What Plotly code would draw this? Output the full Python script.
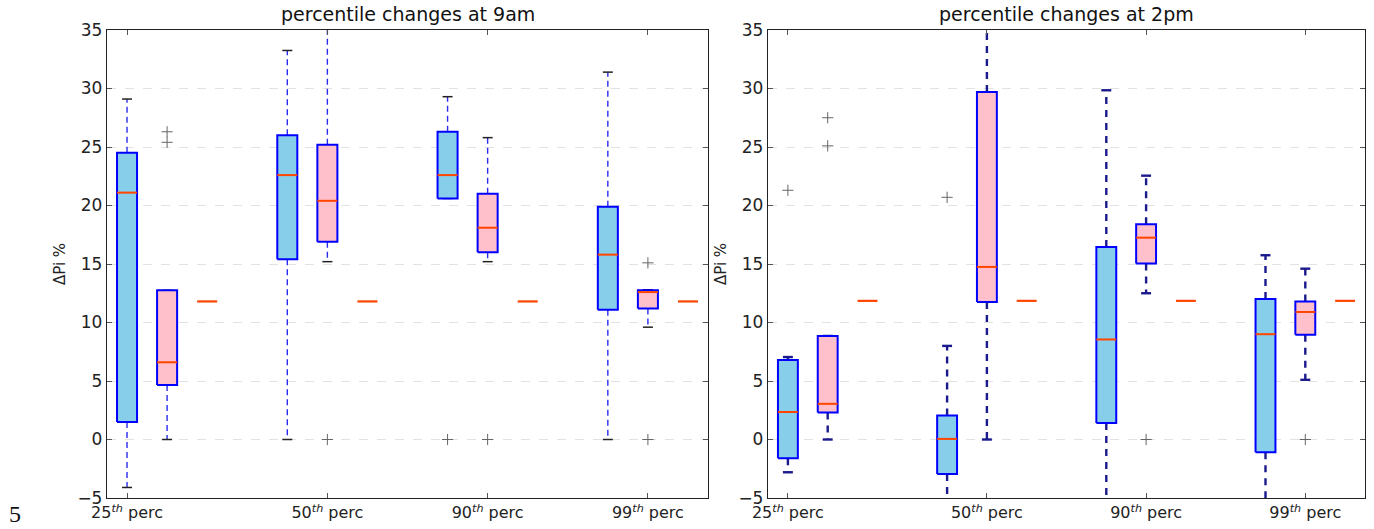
import plotly.graph_objects as go

# ---------------- data ----------------
groups = ["25<sup><i>th</i></sup> perc", "50<sup><i>th</i></sup> perc",
          "90<sup><i>th</i></sup> perc", "99<sup><i>th</i></sup> perc"]
titles = ["percentile changes at 9am", "percentile changes at 2pm"]

# 9am - blue series (whisker low, q1, median, q3, whisker high)
am_blue_lo = [-4.1, 0.0, 20.6, 0.0]
am_blue_q1 = [1.5, 15.4, 20.6, 11.1]
am_blue_med = [21.1, 22.6, 22.6, 15.8]
am_blue_q3 = [24.5, 26.0, 26.3, 19.9]
am_blue_hi = [29.1, 33.25, 29.3, 31.4]
am_blue_out = [[], [], [0.0], []]

# 9am - pink series
am_pink_lo = [0.0, 15.2, 15.2, 9.6]
am_pink_q1 = [4.65, 16.9, 16.0, 11.2]
am_pink_med = [6.6, 20.4, 18.1, 12.6]
am_pink_q3 = [12.75, 25.2, 21.0, 12.75]
am_pink_hi = [12.75, 38.0, 25.8, 12.8]
am_pink_out = [[26.3, 25.4], [0.0], [0.0], [15.1, 0.0]]

am_ref = [11.8, 11.8, 11.8, 11.8]

# 2pm - blue series
pm_blue_lo = [-2.8, -7.0, -7.0, -7.0]
pm_blue_q1 = [-1.6, -2.95, 1.4, -1.1]
pm_blue_med = [2.35, 0.05, 8.55, 9.0]
pm_blue_q3 = [6.8, 2.05, 16.45, 12.0]
pm_blue_hi = [7.05, 8.0, 29.85, 15.75]
pm_blue_out = [[21.3], [20.7], [], []]

# 2pm - pink series
pm_pink_lo = [0.0, 0.0, 12.5, 5.1]
pm_pink_q1 = [2.3, 11.75, 15.05, 8.95]
pm_pink_med = [3.05, 14.75, 17.25, 10.9]
pm_pink_q3 = [8.85, 29.7, 18.4, 11.8]
pm_pink_hi = [8.85, 38.0, 22.55, 14.6]
pm_pink_out = [[27.5, 25.1], [], [0.0], [0.0]]

pm_ref = [11.85, 11.85, 11.85, 11.85]

blue_pos = [1, 5, 9, 13]
pink_pos = [2, 6, 10, 14]
ref_pos = [3, 7, 11, 15]
tick_pos = [1, 6, 10, 14]

# ---------------- styling ----------------
BOX_W = 0.5
CAP_W = 0.25
EDGE = "#0000FF"
MED = "#FF4500"
FILL_BLUE = "#87CEEB"
FILL_PINK = "#FFC0CB"
FONT = "DejaVu Sans"

fig = go.Figure()


def add_box(xa, ya, p, lo, q1, med, q3, hi, outs, fill, wcol, wwidth, wdash, capcol, capwidth):
    h = BOX_W / 2
    c = CAP_W / 2
    fig.add_trace(go.Scatter(x=[p, p, None, p, p], y=[q3, hi, None, q1, lo], mode="lines",
                             line=dict(color=wcol, width=wwidth, dash=wdash),
                             xaxis=xa, yaxis=ya, hoverinfo="skip", showlegend=False))
    fig.add_trace(go.Scatter(x=[p - c, p + c, None, p - c, p + c], y=[hi, hi, None, lo, lo], mode="lines",
                             line=dict(color=capcol, width=capwidth),
                             xaxis=xa, yaxis=ya, hoverinfo="skip", showlegend=False))
    fig.add_trace(go.Scatter(x=[p - h, p + h, p + h, p - h, p - h], y=[q1, q1, q3, q3, q1], mode="lines",
                             fill="toself", fillcolor=fill, line=dict(color=EDGE, width=2),
                             xaxis=xa, yaxis=ya, hoverinfo="skip", showlegend=False))
    fig.add_trace(go.Scatter(x=[p - h, p + h], y=[med, med], mode="lines",
                             line=dict(color=MED, width=2),
                             xaxis=xa, yaxis=ya, hoverinfo="skip", showlegend=False))
    if outs:
        fig.add_trace(go.Scatter(x=[p] * len(outs), y=outs, mode="markers",
                                 marker=dict(symbol="cross-thin", size=8,
                                             line=dict(color="#666666", width=1)),
                                 xaxis=xa, yaxis=ya, hoverinfo="skip", showlegend=False))


panels = [
    ("x", "y", (am_blue_lo, am_blue_q1, am_blue_med, am_blue_q3, am_blue_hi, am_blue_out),
     (am_pink_lo, am_pink_q1, am_pink_med, am_pink_q3, am_pink_hi, am_pink_out), am_ref,
     dict(wcol="#2B2BF0", wwidth=1.4, wdash="6px,4px", capcol="#222222", capwidth=1.5)),
    ("x2", "y2", (pm_blue_lo, pm_blue_q1, pm_blue_med, pm_blue_q3, pm_blue_hi, pm_blue_out),
     (pm_pink_lo, pm_pink_q1, pm_pink_med, pm_pink_q3, pm_pink_hi, pm_pink_out), pm_ref,
     dict(wcol="#1A1A8C", wwidth=2.4, wdash="7px,6px", capcol="#1A1A8C", capwidth=2.4)),
]

for xa, ya, blue, pink, ref, st in panels:
    for i in range(4):
        add_box(xa, ya, blue_pos[i], blue[0][i], blue[1][i], blue[2][i], blue[3][i], blue[4][i],
                blue[5][i], FILL_BLUE, **st)
        add_box(xa, ya, pink_pos[i], pink[0][i], pink[1][i], pink[2][i], pink[3][i], pink[4][i],
                pink[5][i], FILL_PINK, **st)
        h = BOX_W / 2
        fig.add_trace(go.Scatter(x=[ref_pos[i] - h, ref_pos[i] + h], y=[ref[i], ref[i]], mode="lines",
                                 line=dict(color=MED, width=2.2),
                                 xaxis=xa, yaxis=ya, hoverinfo="skip", showlegend=False))

W, H = 1374, 529
L, R, T, B = 107, 9, 30, 31
PW, PH = W - L - R, H - T - B
x1d = [0.0, (708 - L) / PW]
x2d = [(768 - L) / PW, 1.0]
yd = [0.0, 1.0]

xcommon = dict(range=[0.5, 15.5], tickvals=tick_pos, ticktext=groups, showgrid=False, zeroline=False,
               showline=True, linecolor="#222222", linewidth=1.3, mirror="ticks", ticks="inside",
               ticklen=5, tickcolor="#555555", automargin=False,
               tickfont=dict(family=FONT, size=16, color="#222222"))
ycommon = dict(range=[-5, 35], tickvals=[-5, 0, 5, 10, 15, 20, 25, 30, 35], showgrid=True,
               gridcolor="#E2E2E2", griddash="dash", gridwidth=1, zeroline=False,
               showline=True, linecolor="#222222", linewidth=1.3, mirror="ticks", ticks="inside",
               ticklen=5, tickcolor="#555555", automargin=False,
               tickfont=dict(family=FONT, size=17, color="#222222"),
               title=dict(text="ΔPi %", font=dict(family=FONT, size=15, color="#222222"), standoff=8))

fig.update_layout(
    width=W, height=H,
    margin=dict(l=L, r=R, t=T, b=B, autoexpand=False),
    paper_bgcolor="white", plot_bgcolor="white",
    xaxis=dict(domain=x1d, anchor="y", **xcommon),
    yaxis=dict(domain=yd, anchor="x", **ycommon),
    xaxis2=dict(domain=x2d, anchor="y2", **xcommon),
    yaxis2=dict(domain=yd, anchor="x2", **ycommon),
    showlegend=False,
)

for dom, t in zip([x1d, x2d], titles):
    fig.add_annotation(text=t, xref="paper", yref="paper", x=(dom[0] + dom[1]) / 2, y=1.0,
                       xanchor="center", yanchor="bottom", yshift=3, showarrow=False,
                       font=dict(family=FONT, size=19, color="#111111"))

fig.add_annotation(text="5", xref="paper", yref="paper", x=(15 - L) / PW, y=(T + PH - 514) / PH,
                   xanchor="center", yanchor="middle", showarrow=False,
                   font=dict(family="Liberation Serif, Times New Roman, serif", size=24, color="#111111"))

fig.write_html("out.html", config={"displayModeBar": False},
               post_script="document.body.style.margin='0';document.body.style.overflow='hidden';")
